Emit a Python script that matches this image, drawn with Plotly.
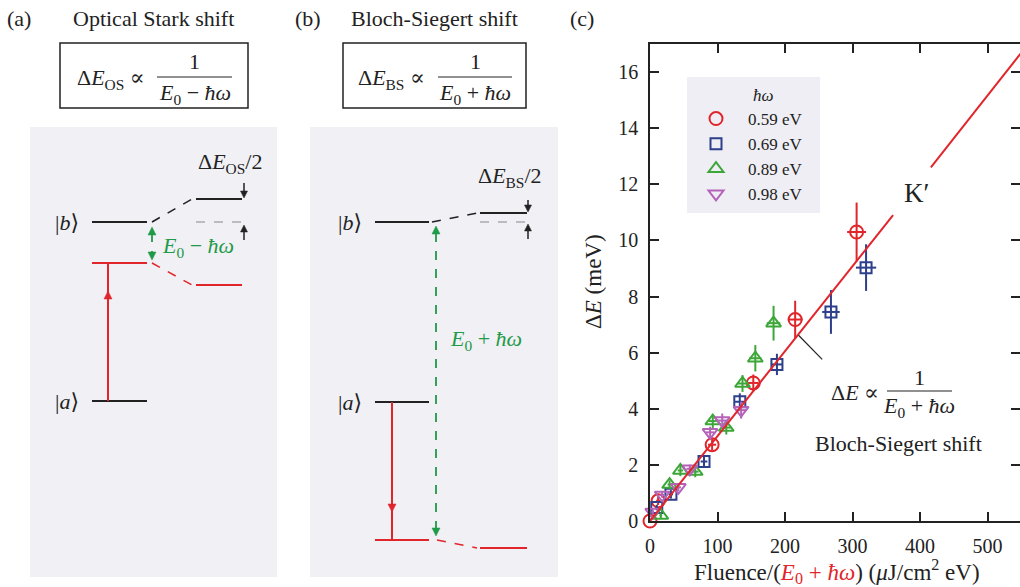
import plotly.graph_objects as go

W, H = 1020, 587
FONT = "Liberation Serif, DejaVu Serif, serif"

# ---- measured level shifts, panel (c) ----
photon_energy = ["0.59 eV", "0.69 eV", "0.89 eV", "0.98 eV"]

fluence_059 = [0, 12, 92, 153, 215, 306]
shift_059 = [0, 0.72, 2.72, 4.92, 7.18, 10.3]
xerr_059 = [2, 3, 6, 8, 11, 14]
yerr_059 = [0.1, 0.15, 0.2, 0.3, 0.67, 1.05]

fluence_069 = [10, 31, 80, 133, 188, 268, 320]
shift_069 = [0.48, 0.95, 2.12, 4.25, 5.58, 7.45, 9.03]
xerr_069 = [2, 3, 5, 7, 9, 13, 15]
yerr_069 = [0.1, 0.15, 0.2, 0.3, 0.38, 0.78, 0.83]

fluence_089 = [16, 29, 45, 67, 93, 113, 137, 156, 183]
shift_089 = [0.2, 1.3, 1.8, 1.76, 3.56, 3.33, 4.9, 5.8, 7.05]
xerr_089 = [2, 3, 4, 5, 6, 7, 8, 9, 10]
yerr_089 = [0.1, 0.15, 0.2, 0.2, 0.25, 0.25, 0.3, 0.47, 0.62]

fluence_098 = [4, 18, 42, 59, 89, 107, 135]
shift_098 = [0.32, 0.93, 1.2, 1.86, 3.16, 3.58, 3.95]
xerr_098 = [2, 3, 4, 5, 6, 7, 8]
yerr_098 = [0.1, 0.1, 0.15, 0.15, 0.2, 0.25, 0.3]

# linear Bloch-Siegert fit (broken where the K' label sits)
fit_x = [0, 360, None, 416, 560]
fit_y = [0, 10.9, None, 12.6, 17.0]

x_ticks = [0, 100, 200, 300, 400, 500]
y_ticks = [0, 2, 4, 6, 8, 10, 12, 14, 16]

RED = "#e0262b"
BLUE = "#2e3f8c"
GREEN = "#3da638"
PURPLE = "#b463b8"
ARROW_GREEN = "#1f9a48"
PANEL_BG = "#f0f0f5"
INK = "#222"


def px(x):
    return x / W


def py(y):
    return 1 - y / H


fig = go.Figure()

series = [
    (fluence_059, shift_059, xerr_059, yerr_059, RED, "circle-open", 13),
    (fluence_069, shift_069, xerr_069, yerr_069, BLUE, "square-open", 11),
    (fluence_089, shift_089, xerr_089, yerr_089, GREEN, "triangle-up-open", 13),
    (fluence_098, shift_098, xerr_098, yerr_098, PURPLE, "triangle-down-open", 13),
]
for i, (xs, ys, ex, ey, col, sym, size) in enumerate(series):
    fig.add_trace(go.Scatter(
        x=xs, y=ys, mode="markers", name=photon_energy[i], cliponaxis=False,
        marker=dict(symbol=sym, size=size, color=col, line=dict(width=2, color=col)),
        error_x=dict(type="data", array=ex, color=col, thickness=2, width=0),
        error_y=dict(type="data", array=ey, color=col, thickness=2, width=0),
    ))

fig.add_trace(go.Scatter(x=fit_x, y=fit_y, mode="lines", showlegend=False,
                         line=dict(color=RED, width=2), connectgaps=False))

shapes = []
annotations = []


def line(x0, y0, x1, y1, color=INK, width=2, dash="solid"):
    shapes.append(dict(type="line", xref="paper", yref="paper",
                       x0=px(x0), y0=py(y0), x1=px(x1), y1=py(y1),
                       line=dict(color=color, width=width, dash=dash)))


def head(x, ytip, up=True, color=INK, w=4, h=8):
    yb = ytip + h if up else ytip - h
    path = (f"M {px(x - w)},{py(yb)} L {px(x)},{py(ytip)} "
            f"L {px(x + w)},{py(yb)} Z")
    shapes.append(dict(type="path", xref="paper", yref="paper", path=path,
                       fillcolor=color, line=dict(color=color, width=0.5)))


def text(x, y, s, size=22, color=INK, xanchor="center", angle=0):
    annotations.append(dict(x=px(x), y=py(y), xref="paper", yref="paper",
                            text=s, showarrow=False, xanchor=xanchor,
                            yanchor="middle", textangle=angle,
                            font=dict(family=FONT, size=size, color=color)))


# ---- panel backgrounds ----
for x0, x1 in [(30, 277), (310, 558)]:
    shapes.append(dict(type="rect", xref="paper", yref="paper", layer="below",
                       x0=px(x0), x1=px(x1), y0=py(577), y1=py(127),
                       fillcolor=PANEL_BG, line=dict(width=0)))

# ---- titles and formula boxes ----
text(19, 18, "(a)")
text(153, 18, "Optical Stark shift")
text(308, 18, "(b)")
text(434, 18, "Bloch-Siegert shift")
text(582, 18, "(c)")

for (bx0, bx1, lhs, lhs_x, frac_x0, frac_x1, den) in [
    (60, 248, "Δ<i>E</i><sub>OS</sub> ∝", 111, 157, 232, "<i>E</i><sub>0</sub> − <i>ħω</i>"),
    (343, 526, "Δ<i>E</i><sub>BS</sub> ∝", 391, 438, 512, "<i>E</i><sub>0</sub> + <i>ħω</i>"),
]:
    shapes.append(dict(type="rect", xref="paper", yref="paper",
                       x0=px(bx0), x1=px(bx1), y0=py(108), y1=py(43),
                       line=dict(color=INK, width=1.5)))
    text(lhs_x, 79, lhs)
    text((frac_x0 + frac_x1) / 2, 62, "1")
    line(frac_x0, 77, frac_x1, 77, width=1.2)
    text((frac_x0 + frac_x1) / 2, 94, den)

# ---- panel (a): optical Stark shift level scheme ----
line(92, 222, 147, 222)                       # |b>
line(152, 222, 192, 199, dash="dash", width=1.5)
line(196, 199, 242, 199)                      # shifted |b>
line(196, 222, 242, 222, color="#aaaaaa", width=1.5, dash="dash")
line(92, 263, 147, 263, color=RED)            # virtual level
line(152, 263, 192, 285, color=RED, dash="dash", width=1.5)
line(196, 285, 242, 285, color=RED)
line(92, 401, 147, 401)                       # |a>
line(108, 401, 108, 263, color=RED)
head(108, 291, up=True, color=RED)
line(152, 233, 152, 255, color=ARROW_GREEN, dash="dash", width=1.8)
head(152, 227, up=True, color=ARROW_GREEN)
head(152, 260, up=False, color=ARROW_GREEN)
line(244, 183, 244, 192, width=1.5)
head(244, 198, up=False, w=3.5, h=7)
line(244, 232, 244, 240, width=1.5)
head(244, 225, up=True, w=3.5, h=7)
text(67, 222, "|<i>b</i>⟩")
text(67, 401, "|<i>a</i>⟩")
text(230, 163, "Δ<i>E</i><sub>OS</sub>/2")
text(198, 247, "<i>E</i><sub>0</sub> − <i>ħω</i>", color=ARROW_GREEN)

# ---- panel (b): Bloch-Siegert shift level scheme ----
line(375, 222, 429, 222)                      # |b>
line(432, 222, 477, 213, dash="dash", width=1.5)
line(480, 213, 527, 213)
line(480, 222, 527, 222, color="#aaaaaa", width=1.5, dash="dash")
line(375, 402, 429, 402)                      # |a>
line(392, 402, 392, 540, color=RED)
head(392, 512, up=False, color=RED)
line(375, 540, 429, 540, color=RED)           # virtual level
line(437, 540, 477, 548, color=RED, dash="dash", width=1.5)
line(480, 548, 527, 548, color=RED)
line(436, 233, 436, 530, color=ARROW_GREEN, dash="dash", width=1.8)
head(436, 226, up=True, color=ARROW_GREEN)
head(436, 536, up=False, color=ARROW_GREEN)
line(528, 200, 528, 206, width=1.5)
head(528, 212, up=False, w=3.5, h=7)
line(528, 231, 528, 239, width=1.5)
head(528, 224, up=True, w=3.5, h=7)
text(350, 222, "|<i>b</i>⟩")
text(350, 402, "|<i>a</i>⟩")
text(510, 177, "Δ<i>E</i><sub>BS</sub>/2")
text(486, 340, "<i>E</i><sub>0</sub> + <i>ħω</i>", color=ARROW_GREEN)

# ---- panel (c): legend backdrop, labels ----
shapes.append(dict(type="rect", xref="paper", yref="paper", layer="below",
                   x0=px(687), x1=px(820), y0=py(213), y1=py(77),
                   fillcolor="#eeeef4", line=dict(width=0)))
text(763, 95, "<i>ħω</i>", size=17)
annotations.append(dict(x=395, y=11.7, xref="x", yref="y", text="K′",
                        showarrow=False, font=dict(family=FONT, size=27, color=INK)))
shapes.append(dict(type="line", xref="x", yref="y", x0=220, y0=6.62, x1=255, y1=5.76,
                   line=dict(color=INK, width=1.2)))
text(855, 392, "Δ<i>E</i> ∝")
text(919, 377, "1")
line(887, 391, 952, 391, width=1.2)
text(919, 407, "<i>E</i><sub>0</sub> + <i>ħω</i>")
text(898, 443, "Bloch-Siegert shift")
text(594, 282, "Δ<i>E</i> (meV)", size=23, angle=-90)
text(837, 571, "Fluence/(<span style='color:%s'><i>E</i><sub>0</sub> + <i>ħω</i></span>)"
     " (<i>μ</i>J/cm<sup>2</sup> eV)" % RED, size=23)

axis_common = dict(showline=True, linecolor=INK, linewidth=1.5, mirror="ticks",
                   ticks="inside", ticklen=9, tickwidth=1.5, tickcolor=INK,
                   showgrid=False, zeroline=False, automargin=False,
                   tickfont=dict(family=FONT, size=20, color=INK))

fig.update_layout(
    width=W, height=H, margin=dict(l=0, r=0, t=0, b=0, autoexpand=False),
    paper_bgcolor="white", plot_bgcolor="rgba(0,0,0,0)",
    xaxis=dict(domain=[650 / W, 1.0], range=[0, 548], tickvals=x_ticks,
               ticklabelstandoff=6, **axis_common),
    yaxis=dict(domain=[66 / H, 543 / H], range=[0, 17], tickvals=y_ticks,
               ticklabelstandoff=6, **axis_common),
    shapes=shapes, annotations=annotations,
    showlegend=True,
    legend=dict(x=px(684), y=py(101), xanchor="left", yanchor="top",
                bgcolor="rgba(0,0,0,0)", itemwidth=54,
                font=dict(family=FONT, size=17, color=INK)),
    font=dict(family=FONT),
)

fig.write_html("out.html")
